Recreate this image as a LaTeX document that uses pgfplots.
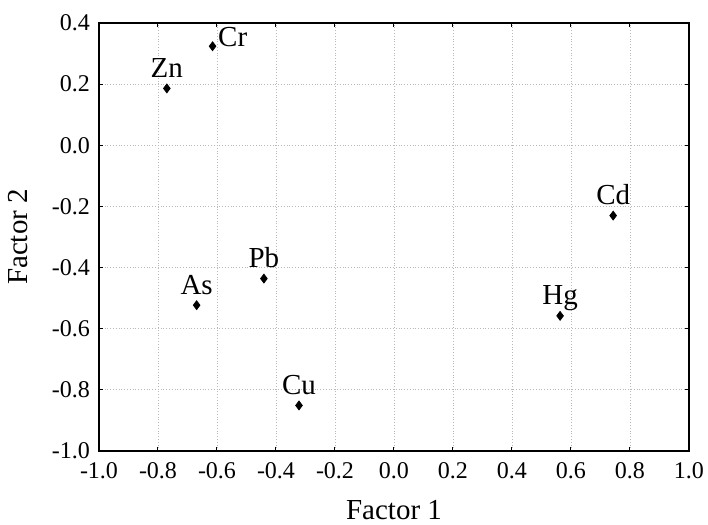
\documentclass[border=0pt]{standalone}
\usepackage{pgfplots}
\pgfplotsset{compat=1.18}
\usepackage{fontspec}
\setmainfont{Liberation Serif}

\begin{document}
\begin{tikzpicture}
\begin{axis}[
    name=ax,
    scale only axis,
    width=295pt, height=214pt,
    xmin=-1, xmax=1, ymin=-1, ymax=0.4,
    xtick={-1,-0.8,...,1.01},
    ytick={-1,-0.8,...,0.41},
    tick align=inside,
    major tick length=2pt,
    tick style={black, line width=0.5pt},
    axis line style={black, line width=0.8pt},
    grid=major,
    grid style={densely dotted, gray!55, line width=0.45pt},
    xticklabel style={font=\fontsize{12}{13}\selectfont, yshift=-2pt},
    yticklabel style={font=\fontsize{12}{13}\selectfont, xshift=-1pt},
    /pgf/number format/assume math mode=true,
    /pgf/number format/.cd, fixed, fixed zerofill, precision=1,
    /pgfplots/.cd,
    xlabel={Factor 1}, ylabel={Factor 2},
    label style={font=\fontsize{14.5}{16}\selectfont},
    xlabel style={yshift=-4pt},
    ylabel style={yshift=5pt},
    nodes near coords,
    point meta=explicit symbolic,
    every node near coord/.append style={font=\fontsize{14.5}{15}\selectfont, anchor=base, yshift=5.5pt},
]
\addplot[only marks, mark=diamond*, mark size=2.2pt, black] table[meta=label] {
x      y      label
-0.770 0.186  Zn
-0.669 -0.523 As
-0.441 -0.436 Pb
-0.322 -0.851 Cu
0.563  -0.558 Hg
0.743  -0.230 Cd
};
\addplot[only marks, mark=diamond*, mark size=2.2pt, black,
    every node near coord/.append style={anchor=base west, yshift=-5.8pt, xshift=-0.7pt}] table[meta=label] {
x      y      label
-0.615 0.324  Cr
};
\end{axis}
\pgfresetboundingbox
\path[use as bounding box] ([shift={(-49.5pt,-37pt)}]ax.south west) rectangle ([shift={(9.5pt,11.5pt)}]ax.north east);
\end{tikzpicture}
\end{document}
